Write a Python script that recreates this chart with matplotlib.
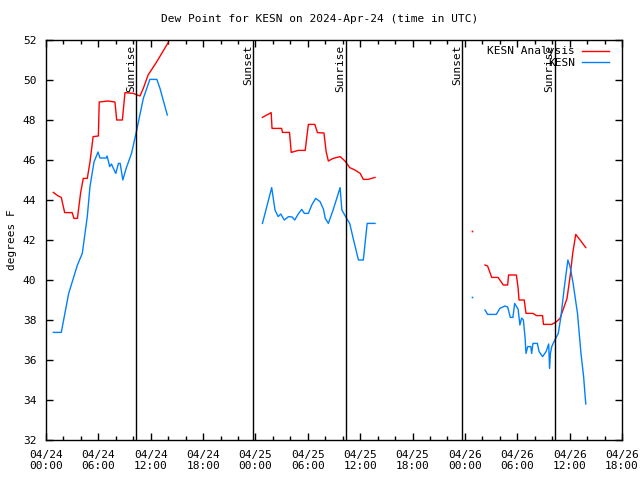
import numpy as np
import matplotlib
matplotlib.use('Agg')
import matplotlib.pyplot as plt
import matplotlib.dates as mdates
from datetime import datetime, timedelta

nan = np.nan

# ------------------------------------------------------------
# Data (hours since 2024-04-24 00:00 UTC, dew point in deg F)
# ------------------------------------------------------------
anal_hours = [0.84, 1.4, 1.75, 2.14, 3.0, 3.2, 3.6, 3.97, 4.27, 4.73, 5.04, 5.4,
              6.0, 6.1, 7.1, 7.9, 8.1, 8.75, 9.05, 10.0, 10.77, 11.15, 11.7,
              12.7, 14.0, nan,
              24.8, 25.8, 25.9, 27.0, 27.1, 27.9, 28.1, 28.9, 29.7, 30.06, 30.8,
              31.1, 31.85, 32.1, 32.35, 32.9, 33.7, 34.26, 34.8, 35.4, 36.0,
              36.36, 36.9, 37.7, nan,
              48.8, nan,
              50.3, 50.6, 51.07, 51.8, 52.4, 52.9, 53.0, 53.9, 54.1, 54.2, 54.8,
              55.0, 55.8, 56.2, 56.9, 57.0, 57.95, 58.5, 58.9, 59.3, 59.7, 60.05,
              60.35, 60.7, 61.2, 61.85]
anal_vals = [44.38, 44.2, 44.13, 43.37, 43.37, 43.08, 43.08, 44.37, 45.08, 45.08,
             45.9, 47.17, 47.2, 48.9, 48.95, 48.9, 48.0, 48.0, 49.37, 49.33,
             49.2, 49.58, 50.25, 50.92, 51.87, nan,
             48.13, 48.37, 47.58, 47.58, 47.38, 47.38, 46.38, 46.48, 46.48,
             47.78, 47.78, 47.37, 47.35, 46.42, 45.95, 46.08, 46.17, 45.95,
             45.62, 45.5, 45.33, 45.03, 45.03, 45.13, nan,
             42.45, nan,
             40.75, 40.7, 40.13, 40.13, 39.75, 39.75, 40.25, 40.25, 39.58, 39.0,
             39.0, 38.33, 38.33, 38.22, 38.22, 37.78, 37.78, 37.92, 38.08, 38.58,
             39.08, 40.17, 41.33, 42.28, 42.0, 41.62]

obs_hours = [0.84, 1.75, 2.6, 3.6, 4.16, 4.73, 5.04, 5.5, 5.96, 6.19, 6.9, 7.0,
             7.3, 7.5, 7.7, 8.0, 8.3, 8.5, 8.8, 9.2, 9.8, 10.4, 11.15, 11.9,
             12.7, 13.06, 13.9, nan,
             24.8, 25.3, 25.86, 26.24, 26.6, 26.9, 27.3, 27.8, 28.2, 28.5, 28.9,
             29.3, 29.6, 30.06, 30.45, 30.9, 31.4, 31.8, 32.0, 32.35, 32.9, 33.7,
             33.9, 34.45, 34.8, 35.2, 35.8, 36.36, 36.8, 37.7, nan,
             48.8, nan,
             50.3, 50.6, 51.6, 52.0, 52.6, 52.9, 53.2, 53.5, 53.7, 54.1, 54.3,
             54.5, 54.7, 54.9, 55.0, 55.2, 55.55, 55.65, 55.8, 56.3, 56.5, 56.9,
             57.3, 57.6, 57.7, 57.8, 57.95, 58.3, 58.7, 59.0, 59.4, 59.8, 60.05,
             60.4, 60.9, 61.3, 61.6, 61.85]
obs_vals = [37.38, 37.38, 39.33, 40.75, 41.33, 43.17, 44.67, 45.9, 46.4, 46.1,
            46.1, 46.2, 45.67, 45.8, 45.6, 45.33, 45.83, 45.83, 45.0, 45.6,
            46.33, 47.5, 49.08, 50.03, 50.03, 49.58, 48.25, nan,
            42.83, 43.67, 44.62, 43.5, 43.17, 43.3, 43.0, 43.17, 43.15, 43.0,
            43.3, 43.53, 43.33, 43.33, 43.75, 44.08, 43.92, 43.53, 43.08, 42.83,
            43.5, 44.62, 43.5, 43.08, 42.83, 42.08, 41.0, 41.0, 42.83, 42.83, nan,
            39.17, nan,
            38.5, 38.28, 38.28, 38.58, 38.7, 38.65, 38.13, 38.13, 38.83, 38.53,
            37.75, 38.1, 38.0, 37.08, 36.33, 36.67, 36.67, 36.33, 36.83, 36.83,
            36.42, 36.17, 36.42, 36.8, 35.58, 36.33, 36.67, 37.0, 37.33, 38.17,
            39.67, 41.0, 40.67, 39.83, 38.33, 36.33, 35.17, 33.8]

sunrise_hours = [10.35, 34.32, 58.28]
sunset_hours = [23.76, 47.72]

start = datetime(2024, 4, 24)


def to_time(hours):
    return [start + timedelta(hours=h) if not np.isnan(h) else start for h in hours]


def isolated(hours, vals):
    # points with a gap on both sides get drawn as a dot
    out_h, out_v = [], []
    for i, v in enumerate(vals):
        if np.isnan(v):
            continue
        prev_gap = i == 0 or np.isnan(vals[i - 1])
        next_gap = i == len(vals) - 1 or np.isnan(vals[i + 1])
        if prev_gap and next_gap:
            out_h.append(hours[i])
            out_v.append(v)
    return out_h, out_v


# ------------------------------------------------------------
# Figure
# ------------------------------------------------------------
font = 'DejaVu Sans Mono'
fs = 8
red = '#ff0000'
blue = '#0080ff'

fig = plt.figure(figsize=(6.4, 4.8), dpi=100)
ax = fig.add_axes([46 / 640, 40 / 480, 576 / 640, 400 / 480])

ax.plot(to_time(anal_hours), anal_vals, color=red, lw=1.0, label='KESN Analysis')
ax.plot(to_time(obs_hours), obs_vals, color=blue, lw=1.0, label='KESN')

ih, iv = isolated(anal_hours, anal_vals)
ax.plot(to_time(ih), iv, 's', color=red, ms=1.2, mew=0)
ih, iv = isolated(obs_hours, obs_vals)
ax.plot(to_time(ih), iv, 's', color=blue, ms=1.2, mew=0)

# Sunrise / sunset markers
for h in sunrise_hours:
    t = start + timedelta(hours=h)
    ax.axvline(t, color='black', lw=1.0)
    ax.text(t, 51.75, 'Sunrise', rotation=90, ha='right', va='top',
            fontsize=fs, family=font)
for h in sunset_hours:
    t = start + timedelta(hours=h)
    ax.axvline(t, color='black', lw=1.0)
    ax.text(t, 51.75, 'Sunset', rotation=90, ha='right', va='top',
            fontsize=fs, family=font)

# Axes
ax.set_xlim(start, start + timedelta(hours=66))
ax.set_ylim(32, 52)
ax.set_yticks(np.arange(32, 53, 2))
ax.xaxis.set_major_locator(mdates.HourLocator(byhour=[0, 6, 12, 18]))
ax.xaxis.set_minor_locator(mdates.HourLocator(byhour=range(0, 24, 2)))
ax.xaxis.set_major_formatter(mdates.DateFormatter('%m/%d\n%H:%M'))
ax.tick_params(which='both', direction='in', top=True, right=True,
               labelsize=fs, width=1.0)
ax.tick_params(which='major', length=5, pad=7)
ax.tick_params(which='minor', length=3)
for lab in ax.get_xticklabels() + ax.get_yticklabels():
    lab.set_family(font)
for s in ax.spines.values():
    s.set_linewidth(1.0)

ax.set_ylabel('degrees F', fontsize=fs, family=font, labelpad=4)
fig.text(0.5, 1 - 19 / 480, 'Dew Point for KESN on 2024-Apr-24 (time in UTC)',
         ha='center', va='center', fontsize=fs, family=font)

leg = ax.legend(loc='upper right', frameon=False, markerfirst=False,
                prop={'family': font, 'size': fs}, handlelength=2.45,
                handletextpad=0.6, labelspacing=0.15,
                borderaxespad=0.0, bbox_to_anchor=(0.985, 0.995))

fig.savefig('out.png', dpi=100)
